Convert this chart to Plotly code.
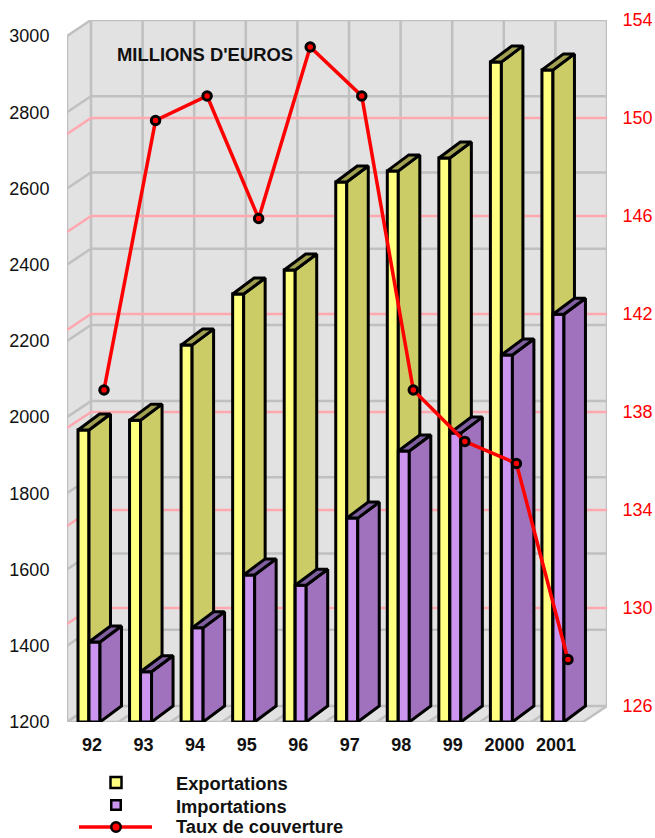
import numpy as np
import plotly.graph_objects as go

# ---- data ----
categories = ["92", "93", "94", "95", "96", "97", "98", "99", "2000", "2001"]
exportations = [1966, 1992, 2189, 2323, 2386, 2617, 2646, 2680, 2932, 2911]
importations = [1410, 1332, 1447, 1586, 1559, 1735, 1911, 1958, 2163, 2270]
taux = [138.9, 149.9, 150.9, 145.9, 152.9, 150.9, 138.9, 136.8, 135.9, 127.9]
left_ticks = list(range(1200, 3001, 200))
right_ticks = list(range(126, 155, 4))
legend_labels = ["Exportations", "Importations", "Taux de couverture"]
title_text = "MILLIONS D'EUROS"

# ---- geometry (figure pixels -> axis units) ----
W, H = 655, 838
PX_X = 51.55              # px per category
PX_Y = 686 / 1800         # px per left-axis unit
X0 = -(89 - 67) / PX_X    # axis left, front of wall
X1 = (607 - 89) / PX_X    # axis right, back of wall
DEPTH_Y = 16 / PX_Y
WALL_DX = 24 / PX_X
BAR_DX = 21.5 / PX_X
BAR_W = 11 / PX_X
Y_MIN, Y_MAX = 1200, 3000 + DEPTH_Y
RATE_SLOPE = 1800 / 28    # left units per rate unit on the back plane
Y2_MIN = 126 - DEPTH_Y / RATE_SLOPE

FONT = "Liberation Sans, Arial, sans-serif"
GREY, PINK, WALL = "#C0C0C0", "#FFA8B0", "#E2E2E2"


def rate_to_left(r):
    return 1200 + DEPTH_Y + (r - 126) * RATE_SLOPE


fig = go.Figure()


def poly(xs, ys, fill, line_color=None, width=0):
    fig.add_trace(go.Scatter(
        x=xs, y=ys, mode="lines", fill="toself", fillcolor=fill,
        line=dict(color=line_color or fill, width=width),
        hoverinfo="skip", showlegend=False))


def lines(xs, ys, color, width):
    fig.add_trace(go.Scatter(
        x=xs, y=ys, mode="lines", line=dict(color=color, width=width),
        hoverinfo="skip", showlegend=False))


# walls
bx0 = X0 + WALL_DX
fx1 = X1 - WALL_DX
poly([bx0, X1, X1, bx0, bx0], [Y_MIN + DEPTH_Y, Y_MIN + DEPTH_Y, Y_MAX, Y_MAX, Y_MIN + DEPTH_Y], WALL)
poly([X0, bx0, bx0, X0, X0], [1200, 1200 + DEPTH_Y, Y_MAX, 3000, 1200], WALL)
poly([X0, bx0, X1, fx1, X0], [1200, 1200 + DEPTH_Y, 1200 + DEPTH_Y, 1200, 1200], WALL)

# grey grid
gx, gy = [], []
for v in left_ticks:
    gx += [X0, bx0, X1, None]
    gy += [v, v + DEPTH_Y, v + DEPTH_Y, None]
n_div = len(categories)
step = (X1 - bx0) / n_div
for j in range(n_div + 1):
    x = bx0 + j * step
    gx += [x - WALL_DX, x, x, None]
    gy += [1200, 1200 + DEPTH_Y, Y_MAX, None]
gx += [X0, X0, None, X0, fx1, None]
gy += [1200, 3000, None, 1200, 1200, None]
lines(gx, gy, GREY, 2.5)

# pink grid from the right axis
px_, py_ = [], []
for r in right_ticks[1:-1]:
    v = rate_to_left(r)
    px_ += [X0, bx0, X1, None]
    py_ += [v - DEPTH_Y, v, v, None]
lines(px_, py_, PINK, 2.5)


def bar_faces(left_offset, values):
    front_x, front_y, side_x, side_y, top_x, top_y = [], [], [], [], [], []
    for i, v in enumerate(values):
        l = i + left_offset
        r = l + BAR_W
        front_x += [l, r, r, l, l, None]
        front_y += [1200, 1200, v, v, 1200, None]
        side_x += [r, r + BAR_DX, r + BAR_DX, r, r, None]
        side_y += [1200, 1200 + DEPTH_Y, v + DEPTH_Y, v, 1200, None]
        top_x += [l, r, r + BAR_DX, l + BAR_DX, l, None]
        top_y += [v, v, v + DEPTH_Y, v + DEPTH_Y, v, None]
    return (front_x, front_y), (side_x, side_y), (top_x, top_y)


for offset, values, colors in [
    (-BAR_W, exportations, ("#FFFF80", "#CCCC66", "#A0A050")),
    (0, importations, ("#CC95F0", "#A072BE", "#7F5F9F")),
]:
    faces = bar_faces(offset, values)
    for (xs, ys), col in zip(faces, colors):
        poly(xs, ys, col, "#000000", 3)

# rate line on the right axis
fig.add_trace(go.Scatter(
    x=[i + 15 / PX_X for i in range(len(categories))], y=taux, yaxis="y2",
    mode="lines+markers", name=legend_labels[2],
    line=dict(color="#FF0000", width=3.5),
    marker=dict(color="#FF0000", size=8.5, line=dict(color="#000000", width=3)),
    showlegend=False))

# hand-placed legend keys on a full-figure pixel overlay
legend_kw = dict(xaxis="x2", yaxis="y3", hoverinfo="skip", showlegend=False)
fig.add_trace(go.Scatter(x=[116], y=[782.5], mode="markers",
                         marker=dict(symbol="square", size=11, color="#FFFF80",
                                     line=dict(color="#000000", width=2.5)), **legend_kw))
fig.add_trace(go.Scatter(x=[116], y=[805], mode="markers",
                         marker=dict(symbol="square", size=9.5, color="#CC95F0",
                                     line=dict(color="#000000", width=2.5)), **legend_kw))
fig.add_trace(go.Scatter(x=[79, 116, 152], y=[827, 827, 827], mode="lines",
                         line=dict(color="#FF0000", width=3.5), **legend_kw))
fig.add_trace(go.Scatter(x=[116], y=[827], mode="markers",
                         marker=dict(color="#FF0000", size=9.5, line=dict(color="#000000", width=2.5)),
                         **legend_kw))

annotations = [dict(text=f"<b>{title_text}</b>", xref="paper", yref="paper",
                    x=115 / W, y=1 - 54.5 / H, xanchor="left", yanchor="middle",
                    showarrow=False, font=dict(family=FONT, size=18.4, color="#111111"))]
for label, y in zip(legend_labels, [783, 806, 826]):
    annotations.append(dict(text=f"<b>{label}</b>", xref="paper", yref="paper",
                            x=174 / W, y=1 - y / H, xanchor="left", yanchor="middle",
                            showarrow=False, font=dict(family=FONT, size=18.3, color="#111111")))

dom_y = [(H - 722) / H, (H - 20) / H]
fig.update_layout(
    width=W, height=H, autosize=False,
    margin=dict(l=0, r=0, t=0, b=0, autoexpand=False),
    paper_bgcolor="#FFFFFF", plot_bgcolor="rgba(0,0,0,0)",
    showlegend=False, annotations=annotations,
    xaxis=dict(domain=[67 / W, 607 / W], range=[X0, X1], showgrid=False, zeroline=False,
               showline=False, tickmode="array",
               tickvals=[i + 3 / PX_X for i in range(len(categories))], ticktext=categories,
               ticks="outside", ticklen=6, tickcolor="rgba(0,0,0,0)",
               tickfont=dict(family=FONT, size=18, color="#111111", weight="bold")),
    yaxis=dict(domain=dom_y, range=[Y_MIN, Y_MAX], showgrid=False, zeroline=False,
               showline=False, tickmode="array", tickvals=left_ticks,
               ticktext=[str(v) for v in left_ticks],
               ticks="outside", ticklen=13, tickcolor="rgba(0,0,0,0)",
               tickfont=dict(family=FONT, size=18, color="#111111")),
    yaxis2=dict(domain=dom_y, range=[Y2_MIN, 154], overlaying="y", side="right", anchor="x",
                showgrid=False, zeroline=False, showline=False, tickmode="array",
                tickvals=right_ticks, ticktext=[str(v) for v in right_ticks],
                ticks="outside", ticklen=11, tickcolor="rgba(0,0,0,0)",
                tickfont=dict(family=FONT, size=18, color="#FF0000")),
    xaxis2=dict(domain=[0, 1], range=[0, W], visible=False, anchor="y3"),
    yaxis3=dict(domain=[0, 1], range=[H, 0], visible=False, anchor="x2"),
)

fig.write_html("out.html", config=dict(displayModeBar=False),
               post_script="document.body.style.margin='0';document.documentElement.style.overflow='hidden';")
